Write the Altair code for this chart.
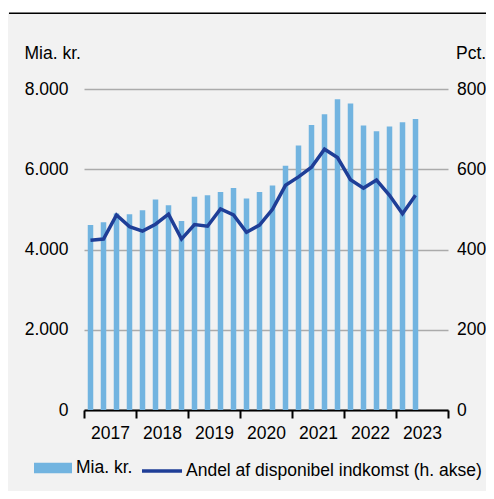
import altair as alt
import pandas as pd

years = [2017, 2018, 2019, 2020, 2021, 2022, 2023]
quarters = [
    "2017K1", "2017K2", "2017K3", "2017K4",
    "2018K1", "2018K2", "2018K3", "2018K4",
    "2019K1", "2019K2", "2019K3", "2019K4",
    "2020K1", "2020K2", "2020K3", "2020K4",
    "2021K1", "2021K2", "2021K3", "2021K4",
    "2022K1", "2022K2", "2022K3", "2022K4",
    "2023K1", "2023K2",
]
mia_kr = [4610, 4680, 4900, 4880, 4980, 5245, 5105, 4710,
          5315, 5350, 5430, 5530, 5270, 5430, 5595, 6085,
          6590, 7105, 7370, 7745, 7640, 7090, 6950, 7065,
          7170, 7255]
andel = [423, 426, 486, 457, 446, 463, 488, 426,
         462, 458, 501, 486, 443, 461, 500, 560,
         581, 605, 650, 629, 574, 553, 573, 535,
         489, 535]

BAR_LABEL = "Mia. kr."
LINE_LABEL = "Andel af disponibel indkomst (h. akse)"

t = [int(q[:4]) + (int(q[-1]) - 0.5) / 4 for q in quarters]
df = pd.DataFrame({"t": t, "kvartal": quarters, "mia": mia_kr, "andel": andel,
                   "bs": BAR_LABEL, "ls": LINE_LABEL})

FONT = "Liberation Sans"
FS = 17.5
BAR_C = "#72b4e0"
LINE_C = "#1f3e97"

x_enc = alt.X(
    "t:Q",
    scale=alt.Scale(domain=[2017, 2024], nice=False, zero=False, padding=0),
    axis=alt.Axis(
        values=years + [2024],
        labelExpr="datum.value >= 2024 ? '' : format(datum.value, 'd')",
        labelOffset=26,
        labelFlush=False,
        labelOverlap=False,
        grid=False,
        ticks=True,
        tickSize=8,
        tickWidth=2,
        tickColor="#000000",
        domainColor="#000000",
        domainWidth=2,
        labelPadding=6,
        title=None,
    ),
)

# top border decoration (white strip + black line above the grey panel)
deco = pd.DataFrame({"k": [0]})
top_strip = alt.Chart(deco).mark_rect(color="#ffffff").encode(
    x=alt.value(-76), x2=alt.value(402), y=alt.value(-81), y2=alt.value(-76.5)
)
top_line = alt.Chart(deco).mark_rule(color="#000000", strokeWidth=1.5).encode(
    x=alt.value(-75), x2=alt.value(402), y=alt.value(-75.8)
)

bars = alt.Chart(df).mark_bar(size=5.5).encode(
    x=x_enc,
    y=alt.Y(
        "mia:Q",
        scale=alt.Scale(domain=[0, 8000], nice=False),
        axis=alt.Axis(
            orient="left",
            values=[0, 2000, 4000, 6000, 8000],
            labelExpr="replace(format(datum.value, ','), ',', '.')",
            grid=True,
            gridColor="#ababab",
            gridWidth=1.5,
            ticks=False,
            domain=False,
            labelPadding=16,
            title=BAR_LABEL,
            titleAngle=0,
            titleAlign="left",
            titleBaseline="alphabetic",
            titleX=-60,
            titleY=-31,
        ),
    ),
    fill=alt.Fill(
        "bs:N",
        scale=alt.Scale(domain=[BAR_LABEL], range=[BAR_C]),
        legend=alt.Legend(
            title=None,
            orient="none",
            legendX=-50,
            legendY=360,
            symbolType="M-1,-0.27H1V0.27H-1Z",
            symbolSize=1444,
            symbolStrokeWidth=0,
            labelOffset=4,
            labelFontSize=FS,
            labelFont=FONT,
            labelColor="#000000",
            labelLimit=0,
        ),
    ),
)

line = alt.Chart(df).mark_line(strokeWidth=3.5).encode(
    x=alt.X("t:Q"),
    y=alt.Y(
        "andel:Q",
        scale=alt.Scale(domain=[0, 800], nice=False),
        axis=alt.Axis(
            orient="right",
            values=[0, 200, 400, 600, 800],
            grid=False,
            ticks=False,
            domain=False,
            labelPadding=8.5,
            title="Pct.",
            titleAngle=0,
            titleAlign="left",
            titleBaseline="alphabetic",
            titleX=7.5,
            titleY=-31,
        ),
    ),
    stroke=alt.Stroke(
        "ls:N",
        scale=alt.Scale(domain=[LINE_LABEL], range=[LINE_C]),
        legend=alt.Legend(
            title=None,
            orient="none",
            legendX=56,
            legendY=360,
            symbolType="stroke",
            symbolSize=1600,
            symbolStrokeWidth=3.5,
            labelOffset=2,
            labelFontSize=FS,
            labelFont=FONT,
            labelColor="#000000",
            labelLimit=0,
        ),
    ),
)

chart = (
    alt.layer(top_strip, top_line, bars, line)
    .resolve_scale(y="independent", fill="independent", stroke="independent")
    .properties(
        width=364,
        height=321,
        autosize=alt.AutoSizeParams(type="none"),
        padding={"left": 76, "top": 81, "right": 38, "bottom": 81},
        background="#f2f2f2",
    )
    .configure_view(stroke=None)
    .configure_axis(
        labelFont=FONT,
        labelFontSize=FS,
        labelColor="#000000",
        titleFont=FONT,
        titleFontSize=FS,
        titleFontWeight="normal",
        titleColor="#000000",
    )
)

chart.save("out.html", embed_options={"renderer": "svg", "actions": False})
